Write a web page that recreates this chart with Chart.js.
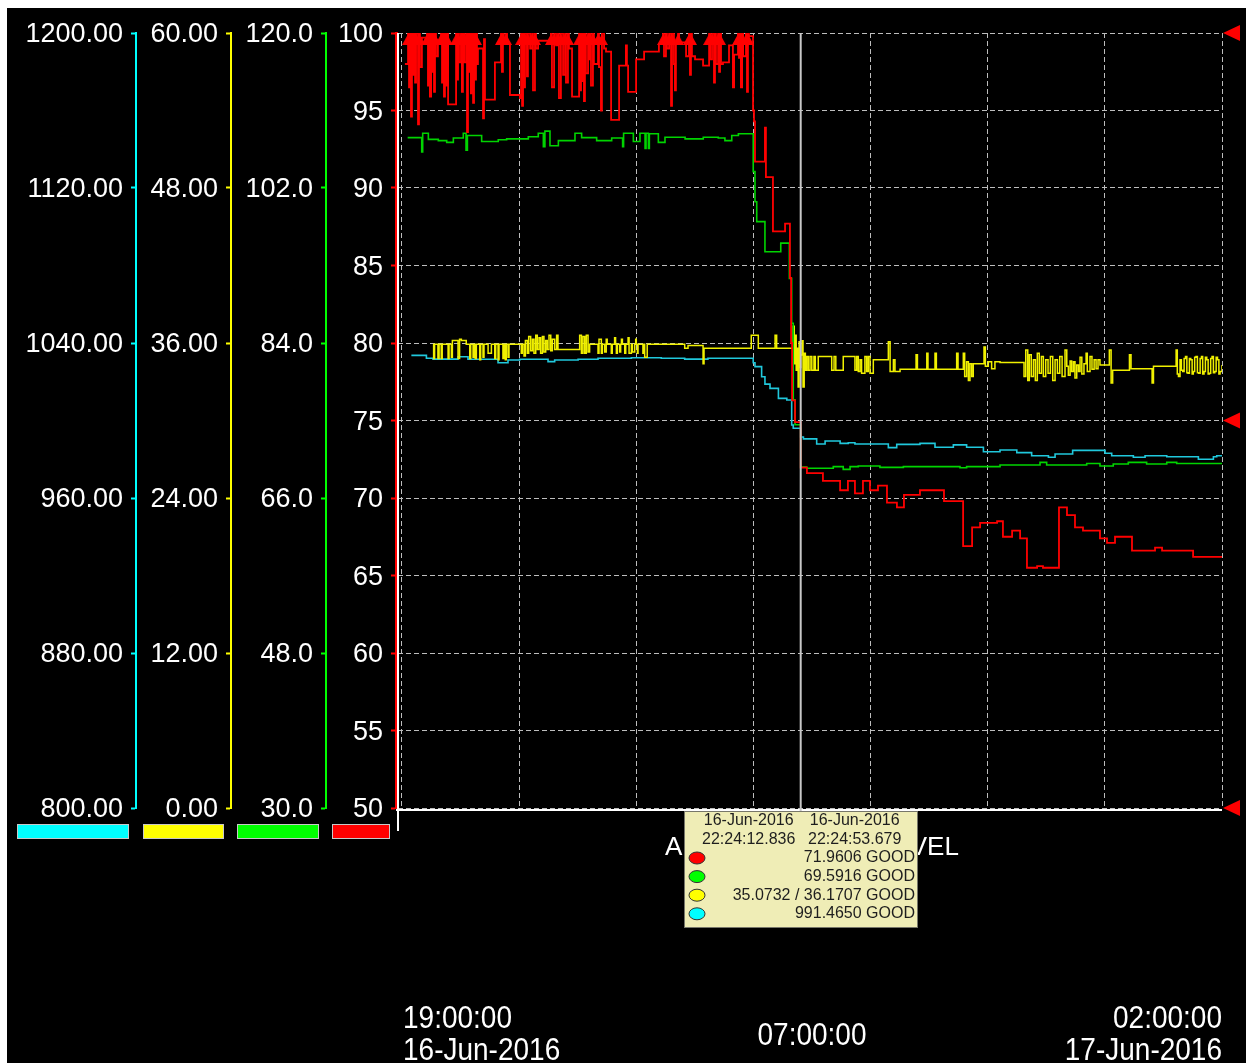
<!DOCTYPE html>
<html>
<head>
<meta charset="utf-8">
<title>Trend</title>
<script src="https://cdn.jsdelivr.net/npm/chart.js@4.4.1/dist/chart.umd.min.js"></script>
<style>
  html, body { margin: 0; padding: 0; background: #ffffff; }
  #wrap { position: absolute; left: 7px; top: 8px; width: 1239px; height: 1055px; background: #000000; }
  canvas { display: block; }
</style>
</head>
<body>
<div id="wrap"><canvas id="trend" width="1239" height="1055"></canvas></div>
<script>
// ---- time window (x values are minutes after 19:00:00 on 16-Jun-2016) ----
const spanStart = ['19:00:00', '16-Jun-2016'];
const spanLength = '07:00:00';
const spanEnd = ['02:00:00', '17-Jun-2016'];
const hourTicks = [0, 60, 120, 180, 240, 300, 360, 420];
const trendTitle = 'AERATION TANK LEVEL';

// ---- pen scales ----
const cyanTicks = [800, 880, 960, 1040, 1120, 1200];
const yellowTicks = [0, 12, 24, 36, 48, 60];
const greenTicks = [30, 48, 66, 84, 102, 120];
const redTicks = [50, 55, 60, 65, 70, 75, 80, 85, 90, 95, 100];
const redLimitMarks = [100, 75, 50];

// ---- cursor readout ----
const cursorDates = ['16-Jun-2016', '16-Jun-2016'];
const cursorTimes = ['22:24:12.836', '22:24:53.679'];
const cursorStatus = 'GOOD';
const redAtCursor = 71.9606;
const greenAtCursor = 69.5916;
const yellowAtCursor = [35.0732, 36.1707];
const cyanAtCursor = 991.4650;

function clockToMinutes(t) {
  const [h, m, s] = t.split(':').map(Number);
  const hh = h < 19 ? h + 24 : h;
  return (hh - 19) * 60 + m + s / 60;
}
const CUR_A = clockToMinutes(cursorTimes[0]);
const CUR_B = clockToMinutes(cursorTimes[1]);

// ---- pen samples: [minute, value] ----
const redTrend = [
  [1.5,98.0],[3.1,100],[3.6,96.5],[4.1,100],[4.6,94.6],[5.1,100],[5.6,97.3],[6.1,100],[6.7,96.8],[7.2,100],[8.2,94.1],[8.7,100],[9.2,97.8],[10.2,99.7],
  [12.8,100],[13.3,96.6],[13.8,100],[14.3,95.9],[14.9,100],[15.4,97.5],[15.9,100],[16.4,96.2],[16.9,100],[17.4,98.5],[18.4,99.5],
  [20.0,100],[20.5,96.8],[21.0,100],[21.5,95.9],[22.0,100],[22.5,96.6],[23.0,100],[23.6,95.4],
  [27.7,100],[28.2,97.0],[28.7,100],[29.2,98.1],[30.2,100],[30.7,96.2],[31.2,100],[31.8,98.1],[32.8,100],[33.3,93.6],[33.8,100],[34.3,97.5],[34.8,100],[35.3,96.1],[35.9,100],[36.4,95.5],[36.9,100],[37.4,97.0],[37.9,100],[38.4,98.0],[38.9,99.0],
  [41.5,94.5],[42.0,99.6],[42.5,95.7],[47.6,98.1],
  [50.7,100],[51.2,97.5],[51.7,100],[52.2,99.3],[53.3,100],[53.8,99.3],[55.3,96.0],[60.4,95.8],
  [61.0,100],[61.5,95.3],[62.0,100],[62.5,96.5],[63.0,100],[64.0,97.2],[64.5,100],[65.6,99.0],[66.6,100],[67.1,96.3],[68.1,100],[68.6,99.0],[69.7,99.5],
  [76.3,100],[76.8,96.5],[77.9,100],[78.9,99.2],[79.9,100],[80.4,95.8],[81.4,100],[82.5,97.3],[83.5,100],[84.0,96.8],[85.0,100],[85.5,99.0],[87.1,95.9],
  [90.7,100],[91.2,96.3],[91.7,100],[92.2,96.9],[92.7,100],[93.2,95.6],[93.7,100],[94.2,97.4],[95.3,100],[95.8,98.3],[96.3,100],[96.8,96.6],[97.8,100],[98.3,98.0],
  [100.4,100],[100.9,97.8],[101.9,95.0],[102.4,100],[103.5,99.0],[104.5,98.8],[107.1,94.4],[111.2,97.9],[114.7,99.2],[115.2,97.9],[115.8,96.2],[119.9,98.3],[124.0,98.8],[131.6,99.3],
  [133.7,100],[134.2,98.5],[135.2,100],[135.7,99.0],[136.8,100],[137.8,95.3],[138.3,100],[139.3,98.0],[139.8,96.3],[140.3,99.4],[141.4,100],[141.9,99.4],[145.5,98.5],
  [147.0,100],[147.5,97.3],[148.0,100],[148.5,98.5],[150.1,98.3],[154.2,97.9],
  [157.3,100],[157.8,98.3],[158.8,100],[159.8,96.8],[160.3,100],[160.8,98.0],[161.9,100],[162.4,97.5],[162.9,100],[163.4,98.0],[164.4,98.1],[167.5,99.2],[169.5,96.5],[170.1,98.6],
  [172.1,100],[172.6,98.4],[173.1,100],[173.6,96.5],[174.2,100],[174.7,98.5],[176.2,100],[176.7,96.2],[177.2,100],[177.7,99.8],[179.8,95.0],[180.3,94.3],[180.8,91.7],
  [185.9,93.9],[186.4,90.7],[190.0,87.2],[196.2,87.7],[198.7,84.2],[199.3,80.0],[199.8,76.3],[201.3,74.9],[CUR_A,redAtCursor],
  [207.4,71.6],[215.6,71.1],[224.4,70.5],[228.4,71.1],[232.0,70.3],[236.1,71.1],[239.7,70.5],[243.8,70.8],[248.4,69.7],[253.5,69.4],[257.1,70.2],[265.3,70.5],[277.6,69.8],
  [287.4,66.9],[292.0,68.1],[296.1,68.4],[304.8,68.5],[307.8,67.5],[312.5,67.9],[316.6,67.4],[320.1,65.5],[325.3,65.6],[328.3,65.5],[336.5,69.4],[340.6,68.9],[344.7,68.1],
  [348.8,67.9],[357.5,67.4],[361.1,67.1],[365.2,67.5],[373.9,66.6],[385.7,66.8],[389.3,66.6],[405.2,66.2],[420,66.2]
];

const greenTrend = [
  [2.9,107.85],[10.1,106.2],[10.6,108.35],[13.5,107.65],[18.6,107.5],[22.9,107.3],[26.3,107.8],[31.4,108.35],[32.8,106.4],[33.5,108.1],[40.8,107.4],[49.3,107.6],[53.6,107.7],
  [64.7,107.96],[69.8,108.35],[72.4,106.8],[73.2,108.6],[75.8,106.9],[80.1,107.5],[88.6,108.35],[92.0,107.85],[99.7,107.5],[107.4,107.8],[113.0,106.8],[113.5,108.35],
  [118.5,107.4],[121.9,108.35],[124.5,106.6],[125.0,108.35],[126.2,106.6],[126.7,108.3],[131.3,107.3],[134.7,107.9],[145.0,107.7],[154.3,107.9],[162.0,107.8],[165.4,107.5],
  [168.9,108.1],[172.3,108.3],[179.9,103.9],[180.8,100.4],[181.7,98.1],[185.9,94.6],[194.0,95.6],[198.4,91.5],[199.6,86.3],[200.4,77.4],[201.3,74.5],[CUR_A,greenAtCursor],
  [207.3,69.45],[220.9,69.64],[226.0,69.33],[229.5,69.64],[233.7,69.72],[244.8,69.56],[256.8,69.64],[285.8,69.52],[289.2,69.64],[306.3,69.83],[326.8,70.14],[330.2,69.83],
  [350.7,70.0],[357.5,69.72],[364.3,69.95],[372.0,70.14],[381.4,69.95],[391.7,70.14],[396.8,70.0],[420,70.0]
];

const yellowTrend = [
  [15.9,35.9],[16.2,34.8],[16.7,35.9],[18.4,34.8],[19.0,35.9],[20.1,34.8],[20.6,35.9],[23.6,34.8],[24.1,35.9],[25.3,34.9],[25.8,36.2],[28.7,34.8],[29.5,36.3],[30.4,36.2],
  [32.9,35.9],[34.7,34.8],[35.2,35.9],[36.4,34.9],[36.9,35.9],[37.5,34.8],[38.1,35.9],[39.8,34.7],[40.3,35.9],[41.5,34.9],[42.0,35.9],[44.1,35.2],[45.8,35.9],[47.5,34.8],
  [48.0,35.9],[49.2,34.7],[49.7,35.9],[51.7,34.8],[52.2,35.9],[52.9,34.7],[53.4,35.9],[54.3,34.9],[54.8,35.9],
  [61.1,35.2],[61.6,35.9],[62.5,35.0],[63.2,36.2],[64.2,35.2],[64.9,36.5],[65.9,35.4],[66.8,36.3],[67.6,35.2],[68.5,36.6],[69.3,35.5],[70.2,36.4],[71.0,35.2],[71.9,36.5],
  [72.7,35.3],[73.6,36.2],[74.4,35.5],[75.3,36.6],[76.2,35.4],[77.0,36.3],[78.2,35.5],[79.2,36.6],[79.9,35.5],
  [91.0,36.6],[91.9,35.2],[92.7,36.5],[93.6,35.2],[94.4,36.6],[95.3,35.3],[96.1,35.9],
  [100.4,35.2],[100.9,36.3],[102.1,35.2],[102.6,35.9],[103.8,35.3],[104.6,36.3],[105.1,35.9],[107.2,35.2],[107.7,35.9],[108.9,36.4],[109.4,35.9],[109.8,35.2],[110.3,35.9],
  [111.5,35.3],[112.0,35.9],[112.4,36.3],[112.9,35.9],[114.1,35.2],[114.6,35.9],[115.8,36.4],[116.3,35.2],[117.5,35.9],[118.0,35.3],[119.2,35.9],[119.7,36.3],[120.0,35.9],
  [120.6,35.2],[120.9,35.9],[123.4,35.2],[124.0,35.9],[124.3,34.9],[125.6,35.9],
  [144.8,35.6],[146.5,35.8],[154.2,34.4],[154.7,35.6],[178.9,36.6],[182.5,35.6],[191.1,36.6],[191.9,35.6],
  [200.4,37.3],[200.9,34.4],[201.4,36.6],[201.9,33.9],[202.4,35.6],[202.9,32.6],[203.4,36.1],[203.9,34.1],[CUR_A,yellowAtCursor[0]],[CUR_B,yellowAtCursor[1]],
  [205.4,32.6],[206.0,35.2],[206.6,33.9],[207.3,34.95],[208.1,33.9],[209.0,34.95],[209.9,33.9],[211.0,34.95],[211.7,33.9],[213.2,34.95],[220.1,33.9],[221.3,34.95],[222.2,33.9],
  [226.0,34.95],[232.0,33.9],[232.9,34.95],[233.7,33.8],[234.6,34.7],[235.4,33.65],[237.1,34.95],[238.0,33.8],[238.8,34.95],[239.7,33.65],[241.4,34.7],[249.1,36.1],[250.0,33.8],
  [251.7,34.7],[252.5,33.8],[255.1,33.97],[263.3,35.1],[264.0,33.97],[268.8,35.2],[269.4,33.97],[273.0,35.2],[273.7,33.97],[284.1,35.2],[284.8,33.97],[287.5,35.2],[288.2,33.4],
  [289.2,34.55],[290.1,33.1],[290.9,34.4],[291.8,33.4],[292.6,34.4],[298.1,35.7],[298.8,34.2],[300.3,34.55],[302.0,34.0],[303.7,34.55],[306.3,34.5],[318.6,33.4],[319.5,35.45],
  [320.5,33.1],[321.3,35.1],[322.3,33.4],[323.4,34.7],[324.4,33.1],[325.4,35.2],[326.4,33.65],[327.5,34.95],[328.5,33.4],[329.7,34.7],[330.9,33.65],[332.1,34.95],[333.3,33.1],
  [334.5,34.7],[335.7,33.65],[336.9,34.95],[338.1,33.4],[339.6,35.45],[340.5,34.2],[341.3,33.5],[342.2,34.6],[343.0,33.8],[343.9,34.55],[344.7,33.3],[345.6,34.3],[346.5,33.8],
  [347.3,34.9],[348.2,33.6],[349.3,34.4],[350.4,35.2],[351.0,33.8],[352.4,34.95],[353.4,33.97],[354.5,34.7],[355.5,34.0],[356.5,34.7],[357.5,34.3],[362.3,35.45],[363.2,32.9],
  [364.0,33.9],[372.6,35.1],[373.4,34.0],[384.2,32.9],[384.9,34.2],[396.5,35.45],[397.1,33.6],
  [397.7,33.4],[398.5,34.7],[399.2,33.9],[399.9,33.8],[400.6,34.8],[401.3,34.95],[402.0,33.7],[402.6,33.65],[403.3,34.8],[404.0,34.7],[404.7,33.6],[405.3,33.8],[406.0,34.9],
  [406.7,34.95],[407.4,33.7],[408.1,33.65],[408.8,34.8],[409.5,34.95],[410.1,33.6],[410.8,33.8],[411.5,34.9],[412.2,34.7],[412.9,33.6],[413.6,33.65],[414.2,34.8],
  [414.9,34.95],[415.6,33.7],[416.3,33.8],[417.0,34.9],[417.7,34.7],[418.4,33.6],[419.0,33.8],[420,34.3]
];

const cyanTrend = [
  [4.8,1033.6],[12.5,1032.1],[15.9,1031.7],[28.7,1032.9],[33.8,1031.6],[49.2,1029.8],[54.3,1031.2],[60.3,1031.6],[74.8,1030.4],[78.2,1031.2],[90.2,1031.6],[100.4,1032.1],
  [117.5,1032.4],[132.8,1032.1],[144.8,1031.7],[156.7,1032.1],[179.9,1029.8],[180.8,1027.8],[184.2,1022.6],[185.9,1018.8],[188.5,1016.6],[192.8,1011.4],[197.1,1010.6],
  [199.6,997.7],[200.4,996.0],[CUR_A,cyanAtCursor],[205.6,990.5],[212.4,987.9],[216.7,989.4],[224.4,988.2],[228.6,988.5],[232.0,987.9],[249.1,986.0],[253.4,987.7],
  [265.3,988.2],[273.0,986.2],[282.4,987.4],[289.2,986.2],[297.8,983.9],[306.3,984.8],[314.9,983.4],[322.5,981.8],[331.1,981.0],[334.5,982.7],[343.5,984.6],[360.1,983.1],
  [363.5,981.8],[374.6,981.0],[380.6,981.8],[391.7,981.3],[407.9,980.0],[415.6,981.3],[417.3,981.8],[420,981.8]
];

// ---- styling ----
const penColors = { cyan: '#00ffff', yellow: '#ffff00', green: '#00ff00', red: '#ff0000' };
const traceColors = { cyan: '#20c8dc', yellow: '#f0f000', green: '#00d400', red: '#ff0000' };
const labelFont = { family: '"Liberation Sans", Arial, sans-serif', size: 27 };
const gridGray = '#bdbdbd';

// over-range marker: a small upward arrow head hanging below the top of the plot
const overRange = document.createElement('canvas');
overRange.width = 12; overRange.height = 26;
(function () {
  const g = overRange.getContext('2d');
  g.fillStyle = '#ff0000';
  g.beginPath(); g.moveTo(6, 14); g.lineTo(12, 25); g.lineTo(0, 25); g.closePath(); g.fill();
})();

const toPoints = rows => rows.map(([x, y]) => ({ x, y }));

function penAxis(ticks, color, weight, width, digits, lineW) {
  return {
    type: 'linear', position: 'left', weight,
    min: ticks[0], max: ticks[ticks.length - 1],
    afterBuildTicks: s => { s.ticks = ticks.map(v => ({ value: v })); },
    afterFit: s => { s.width = width; },
    border: { display: true, color, width: lineW },
    grid: { drawOnChartArea: false, drawTicks: true, tickLength: 5, tickColor: color, tickWidth: 2 },
    ticks: { color: '#ffffff', font: labelFont, padding: 8, autoSkip: false, labelOffset: 2,
             callback: v => Number(v).toFixed(digits) }
  };
}

const decor = {
  id: 'trendDecor',
  afterDraw(chart) {
    const { ctx, chartArea: a, scales } = chart;
    const xs = scales.x;
    ctx.save();

    // frame: white left rule and bottom rule
    ctx.strokeStyle = '#ffffff';
    ctx.lineWidth = 2;
    ctx.beginPath();
    ctx.moveTo(a.left + 2, a.top); ctx.lineTo(a.left + 2, a.bottom + 23);
    ctx.moveTo(a.left, a.bottom + 2); ctx.lineTo(a.right, a.bottom + 2);
    ctx.stroke();

    // red limit arrows on the right edge
    ctx.fillStyle = penColors.red;
    redLimitMarks.forEach(v => {
      const y = scales.yRed.getPixelForValue(v);
      ctx.beginPath();
      ctx.moveTo(a.right + 1, y); ctx.lineTo(a.right + 18, y - 8); ctx.lineTo(a.right + 18, y + 8);
      ctx.closePath(); ctx.fill();
    });

    // pen colour keys under each scale
    [['yCyan', 'cyan', 10], ['yYellow', 'yellow', 7], ['yGreen', 'green', 6], ['yRed', 'red', 6]].forEach(([id, c, inset]) => {
      const s = scales[id];
      const x0 = s.left + inset, x1 = (id === 'yRed' ? s.right - 6 : s.right - 7);
      ctx.fillStyle = penColors[c];
      ctx.fillRect(x0, a.bottom + 16, x1 - x0, 15);
      ctx.strokeStyle = '#c8c8c8'; ctx.lineWidth = 1;
      ctx.strokeRect(x0 + 0.5, a.bottom + 16.5, x1 - x0 - 1, 14);
    });

    // time span labels
    ctx.fillStyle = '#ffffff';
    ctx.font = '32px "Liberation Sans", Arial, sans-serif';
    ctx.textBaseline = 'middle';
    const narrowText = (t, x, y, align) => {
      ctx.save(); ctx.translate(x, y); ctx.scale(0.875, 1);
      ctx.textAlign = align; ctx.fillText(t, 0, 0); ctx.restore();
    };
    const x0 = xs.getPixelForValue(hourTicks[0]);
    const x1 = xs.getPixelForValue(hourTicks[hourTicks.length - 1]);
    const xm = xs.getPixelForValue((hourTicks[0] + hourTicks[hourTicks.length - 1]) / 2);
    narrowText(spanStart[0], x0 + 1, 1011, 'left');
    narrowText(spanStart[1], x0 + 1, 1043, 'left');
    narrowText(spanLength, xm, 1028, 'center');
    narrowText(spanEnd[0], x1, 1011, 'right');
    narrowText(spanEnd[1], x1, 1043, 'right');

    // trend title
    ctx.font = '26px "Liberation Sans", Arial, sans-serif';
    ctx.textAlign = 'center';
    ctx.fillText(trendTitle, xm, a.bottom + 40);

    // cursor line
    const cx = xs.getPixelForValue(CUR_A);
    const boxTop = a.bottom + 3;
    ctx.strokeStyle = '#c8c8c8'; ctx.lineWidth = 2;
    ctx.beginPath(); ctx.moveTo(cx, a.top); ctx.lineTo(cx, boxTop); ctx.stroke();

    // cursor readout box
    const bx = Math.round(cx - 117), bw = 234, bh = 117;
    ctx.fillStyle = '#efedb6';
    ctx.fillRect(bx, boxTop, bw, bh);
    ctx.strokeStyle = '#77776a'; ctx.lineWidth = 1;
    ctx.strokeRect(bx + 0.5, boxTop + 0.5, bw - 1, bh - 1);
    ctx.fillStyle = '#1e1e1e';
    ctx.font = '16px "Liberation Sans", Arial, sans-serif';
    ctx.textBaseline = 'middle';
    ctx.textAlign = 'center';
    ctx.fillText(cursorDates[0], cx - 52, boxTop + 10);
    ctx.fillText(cursorDates[1], cx + 54, boxTop + 10);
    ctx.fillText(cursorTimes[0], cx - 52, boxTop + 29);
    ctx.fillText(cursorTimes[1], cx + 54, boxTop + 29);
    const rows = [
      [penColors.red, redAtCursor.toFixed(4) + ' ' + cursorStatus],
      [penColors.green, greenAtCursor.toFixed(4) + ' ' + cursorStatus],
      [penColors.yellow, yellowAtCursor[0].toFixed(4) + ' / ' + yellowAtCursor[1].toFixed(4) + ' ' + cursorStatus],
      [penColors.cyan, cyanAtCursor.toFixed(4) + ' ' + cursorStatus]
    ];
    rows.forEach(([c, t], i) => {
      const ry = boxTop + 47 + i * 18.6;
      ctx.beginPath(); ctx.ellipse(bx + 13, ry, 8, 6, 0, 0, Math.PI * 2);
      ctx.fillStyle = c; ctx.fill();
      ctx.strokeStyle = '#333333'; ctx.lineWidth = 1; ctx.stroke();
      ctx.fillStyle = '#1e1e1e'; ctx.textAlign = 'right';
      ctx.fillText(t, bx + 231, ry);
    });
    ctx.restore();
  }
};

new Chart(document.getElementById('trend'), {
  type: 'line',
  data: {
    datasets: [
      { label: 'red', data: toPoints(redTrend), yAxisID: 'yRed', borderColor: traceColors.red, borderWidth: 1.8,
        pointRadius: c => (c.raw && c.raw.y >= 100 ? 6 : 0),
        pointStyle: c => (c.raw && c.raw.y >= 100 ? overRange : 'circle'),
        pointBackgroundColor: traceColors.red, pointBorderWidth: 0 },
      { label: 'green', data: toPoints(greenTrend), yAxisID: 'yGreen', borderColor: traceColors.green, borderWidth: 1.6, pointRadius: 0 },
      { label: 'yellow', data: toPoints(yellowTrend), yAxisID: 'yYellow', borderColor: traceColors.yellow, borderWidth: 1.5, pointRadius: 0 },
      { label: 'cyan', data: toPoints(cyanTrend), yAxisID: 'yCyan', borderColor: traceColors.cyan, borderWidth: 1.6, pointRadius: 0 }
    ]
  },
  options: {
    responsive: false,
    animation: false,
    events: [],
    layout: { padding: { left: 0, top: 25, right: 24, bottom: 255 } },
    elements: { line: { stepped: true, tension: 0, fill: false } },
    plugins: { legend: { display: false }, tooltip: { enabled: false } },
    scales: {
      x: {
        type: 'linear', position: 'bottom', min: -3.07, max: 420,
        afterBuildTicks: s => { s.ticks = hourTicks.map(v => ({ value: v })); },
        afterFit: s => { s.height = 0; },
        ticks: { display: false },
        grid: { color: gridGray, lineWidth: 1, drawTicks: false },
        border: { display: false, dash: [5, 3] }
      },
      yRed: Object.assign(penAxis(redTicks, penColors.red, 1, 70, 0, 3), {
        grid: { drawOnChartArea: true, color: gridGray, lineWidth: 1, drawTicks: true, tickLength: 5,
                tickColor: penColors.red, tickWidth: 2, tickBorderDash: [] },
        border: { display: true, color: penColors.red, width: 3, dash: [5, 3] }
      }),
      yGreen: penAxis(greenTicks, penColors.green, 2, 95, 1, 2),
      yYellow: penAxis(yellowTicks, penColors.yellow, 3, 95, 2, 2),
      yCyan: penAxis(cyanTicks, penColors.cyan, 4, 129, 2, 2)
    }
  },
  plugins: [decor]
});
</script>
</body>
</html>
